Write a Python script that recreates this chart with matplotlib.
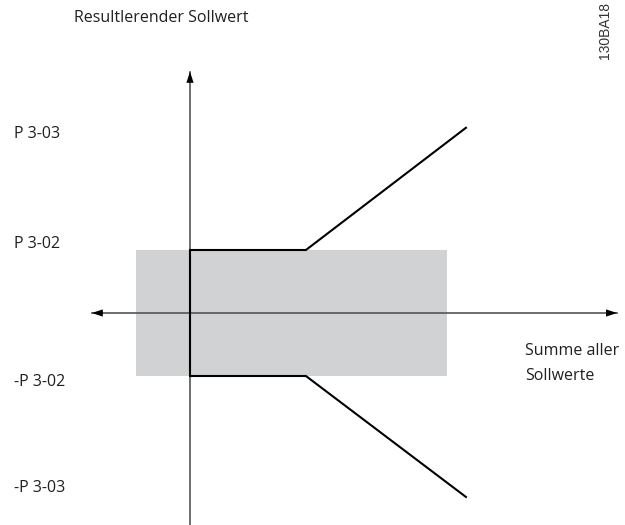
import matplotlib
matplotlib.use("Agg")
import matplotlib.pyplot as plt
from matplotlib.patches import Rectangle

# resulting reference vs. sum of all references (units: P 3-02 = 1)
ref_sum = [4.38, 1.84, 0.0, 0.0, 1.84, 4.38]
result_ref = [2.94, 1.0, 1.0, -1.0, -1.0, -2.92]

# grey band: range of the sum of references
band_x = [-0.86, 4.08]
band_y = [-1.0, 1.0]

# axis extents
x_axis = [-1.56, 6.78]
y_axis = [-3.4, 3.83]

level_labels = ["P 3-03", "P 3-02", "-P 3-02", "-P 3-03"]
level_values = [2.84, 1.1, -1.1, -2.78]

txt = "#231f20"
plt.rcParams['font.family'] = ['Open Sans', 'DejaVu Sans']

fig = plt.figure(figsize=(6.25, 5.25), dpi=100)
ax = fig.add_axes([0, 0, 1, 1])
s = 63.0
ax.set_xlim(-190 / s, 435 / s)
ax.set_ylim(-212 / s, 313 / s)
ax.axis("off")

ax.add_patch(Rectangle((band_x[0], band_y[0]), band_x[1] - band_x[0],
                       band_y[1] - band_y[0], facecolor="#d1d2d4",
                       edgecolor="none", zorder=1))

# axes lines
ax.plot(x_axis, [0, 0], color="#555555", lw=1.2, zorder=2)
ax.plot([0, 0], y_axis, color="#555555", lw=1.2, zorder=2)

head = dict(arrowstyle="-|>,head_length=0.8,head_width=0.26",
            color="black", lw=0, shrinkA=0, shrinkB=0)
ax.annotate("", xy=(x_axis[1], 0), xytext=(x_axis[1] - 0.3, 0), arrowprops=head, zorder=3)
ax.annotate("", xy=(x_axis[0], 0), xytext=(x_axis[0] + 0.3, 0), arrowprops=head, zorder=3)
ax.annotate("", xy=(0, y_axis[1]), xytext=(0, y_axis[1] - 0.3), arrowprops=head, zorder=3)

ax.plot(ref_sum, result_ref, color="black", lw=1.5, zorder=4,
        solid_joinstyle="miter")

fs = 11.5
for lab, v in zip(level_labels, level_values):
    ax.text(-176 / s, v, lab, fontsize=fs, color=txt, ha="left", va="center")

ax.text(-116 / s, 295 / s, "Resultlerender Sollwert", fontsize=fs,
        color=txt, ha="left", va="center")
ax.text(335 / s, -38 / s, "Summe aller", fontsize=fs, color=txt,
        ha="left", va="center")
ax.text(335 / s, -63 / s, "Sollwerte", fontsize=fs, color=txt,
        ha="left", va="center")

ax.text(415 / s, 254 / s, "130BA18", fontsize=10, color="#333333",
        family="Liberation Sans", rotation=90, ha="center", va="bottom")

fig.savefig("out.png", dpi=100)
